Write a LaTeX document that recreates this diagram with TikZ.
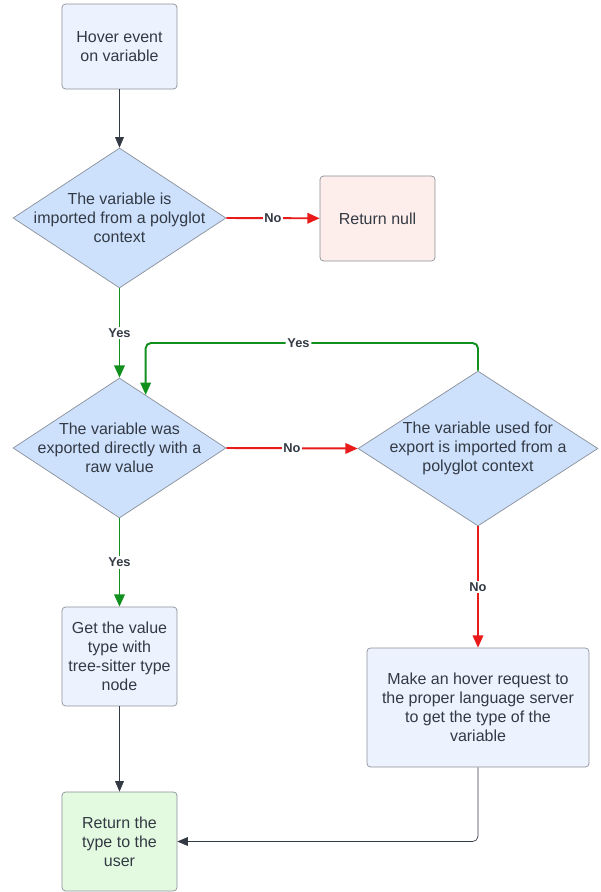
\documentclass[tikz,border=0pt]{standalone}
\usepackage{fontspec}
\setmainfont{Liberation Sans}
\usetikzlibrary{shapes.geometric,arrows.meta,calc}
\definecolor{txtgray}{HTML}{333A44}
\definecolor{linegray}{HTML}{8A8F98}
\definecolor{boxblue}{HTML}{EDF3FE}
\definecolor{diablue}{HTML}{CDE1FD}
\definecolor{boxred}{HTML}{FDEDEB}
\definecolor{boxgreen}{HTML}{E3F9E0}
\definecolor{yesgreen}{HTML}{12901E}
\definecolor{nored}{HTML}{E81A1A}
\begin{document}
\begin{tikzpicture}[
       x=0.02cm, y=-0.02cm,
       font=\fontsize{9.1}{10.8}\selectfont,
       box_style/.style={draw=linegray, fill=boxblue, rounded corners=2pt, text=txtgray, align=center, inner sep=0pt, minimum width=2.3cm},
       decision_style/.style={draw=linegray, fill=diablue, diamond, inner sep=0pt, minimum width=4.26cm, minimum height=2.8cm},
       flow_style/.style={draw=txtgray, -{Triangle[length=6pt,width=5pt]}},
       yes_style/.style={draw=yesgreen, line width=1.1pt, -{Triangle[length=7pt,width=6pt]}},
       no_style/.style={draw=nored, line width=1.1pt, -{Triangle[length=7pt,width=6pt]}},
       tag_style/.style={fill=white, text=txtgray, inner sep=1pt, font=\fontsize{7.3}{8}\selectfont\bfseries}
   ]
   \useasboundingbox (0,0) rectangle (600,892);

   % 1. 方框
   \node[box_style, minimum height=1.7cm] (start) at (119.5,46.5) {Hover event\\on variable};
   \node[box_style, fill=boxred, minimum height=1.7cm] (retnull) at (377.5,218.5) {Return null};
   \node[box_style, minimum height=1.98cm] (getval) at (119.5,656.5) {Get the value\\type with\\tree-sitter type\\node};
   \node[box_style, minimum width=4.44cm, minimum height=2.38cm] (hoverreq) at (478,707.5) {Make an hover request to\\the proper language server\\to get the type of the\\variable};
   \node[box_style, fill=boxgreen, minimum height=1.98cm] (rettype) at (119.5,841.5) {Return the\\type to the\\user};

   % 2. 判断(菱形)
   \node[decision_style, label={[text=txtgray, align=center]center:The variable is\\imported from a polyglot\\context}] (isimported) at (119.5,218) {};
   \node[decision_style, label={[text=txtgray, align=center]center:The variable was\\exported directly with a\\raw value}] (israw) at (119.5,448) {};
   \node[decision_style, minimum width=4.8cm, minimum height=3.1cm, label={[text=txtgray, align=center]center:The variable used for\\export is imported from a\\polyglot context}] (usedimported) at (478,448.5) {};

   % 3. 连线
   \draw[flow_style] (start) -- (isimported);
   \draw[no_style] (isimported.east) -- node[tag_style] {No} (retnull);
   \draw[yes_style] (isimported.south) -- node[tag_style] {Yes} (israw.north);
   \draw[no_style] (israw.east) -- node[tag_style] {No} (usedimported.west);
   \coordinate (loopin) at ($(israw.north)!0.245!(israw.east)$);
   \draw[yes_style, rounded corners=3pt] (usedimported.north) |- node[tag_style, pos=0.77] {Yes} (loopin |- 0,343) -- (loopin);
   \draw[yes_style] (israw.south) -- node[tag_style, pos=0.5] {Yes} (getval);
   \draw[no_style] (usedimported.south) -- node[tag_style, pos=0.5] {No} (hoverreq);
   \draw[flow_style] (getval) -- (rettype);
   \draw[flow_style, rounded corners=3pt] (hoverreq.south) |- (rettype.east);

   \end{tikzpicture}
\end{document}
